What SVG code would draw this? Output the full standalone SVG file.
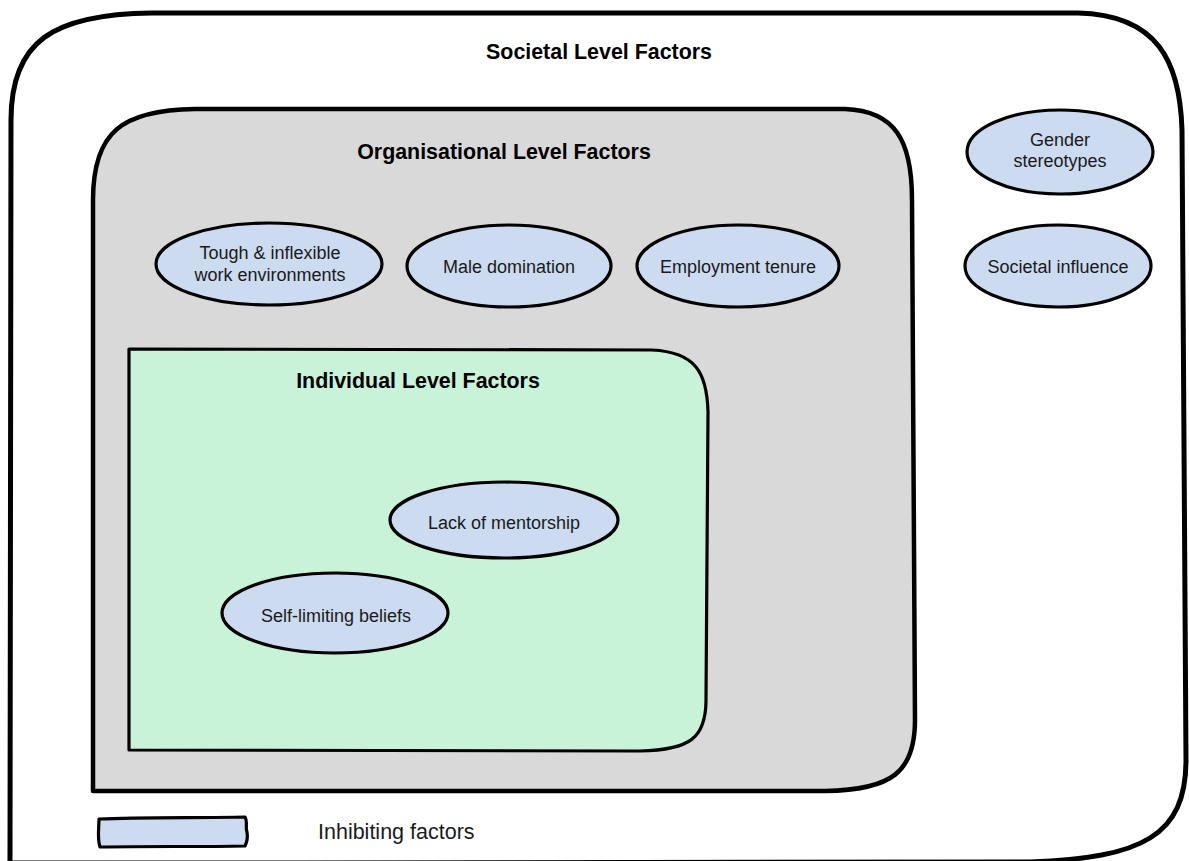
<svg xmlns="http://www.w3.org/2000/svg" width="1189" height="861" viewBox="0 0 1189 861">
  <style>
    .title { font-family: "Liberation Sans", Arial, sans-serif; font-weight: bold; font-size: 21.4px; fill: #000; text-anchor: middle; }
    .lbl { font-family: "Liberation Sans", Arial, sans-serif; font-size: 18px; fill: #1a1a1a; text-anchor: middle; }
    .legend { font-family: "Liberation Sans", Arial, sans-serif; font-size: 21.5px; fill: #1a1a1a; }
    .factor { fill: #ccdbf0; stroke: #000; stroke-width: 3.2; }
    .box { stroke: #000; stroke-linejoin: round; }
  </style>
  <rect width="1189" height="861" fill="#ffffff"/>

  <g id="societal-level">
    <path class="box" fill="#ffffff" stroke-width="5" d="M10,863 L11,120 C11,42 52,14 152,13 L1078,13 C1158,15 1180,62 1182,130 L1186,760 C1186,836 1142,858 1030,862 L300,863 Z"/>
    <text class="title" x="599" y="59">Societal Level Factors</text>
  </g>

  <g id="organisational-level">
    <path class="box" fill="#d9d9d9" stroke-width="4.5" d="M93,791 L93,200 C93,132 122,110 195,109 L845,109 C895,111 912,140 912,200 L915,720 C915,772 892,790 825,791 Z"/>
    <text class="title" x="504" y="159">Organisational Level Factors</text>
  </g>

  <g id="individual-level">
    <path class="box" fill="#c9f3d9" stroke-width="3.2" d="M129,750 L129,349 L652,350 C695,352 707,372 708,412 L706,700 C706,738 690,750 640,751 Z"/>
    <text class="title" x="418" y="388">Individual Level Factors</text>
  </g>

  <g id="tough-inflexible">
    <ellipse class="factor" cx="269" cy="264" rx="113" ry="41"/>
    <text class="lbl" x="270" y="259">Tough &amp; inflexible</text>
    <text class="lbl" x="270" y="281">work environments</text>
  </g>

  <g id="male-domination">
    <ellipse class="factor" cx="509" cy="266" rx="102" ry="41"/>
    <text class="lbl" x="509" y="273">Male domination</text>
  </g>

  <g id="employment-tenure">
    <ellipse class="factor" cx="738" cy="266" rx="101" ry="41"/>
    <text class="lbl" x="738" y="273">Employment tenure</text>
  </g>

  <g id="gender-stereotypes">
    <ellipse class="factor" cx="1060" cy="152" rx="93" ry="42"/>
    <text class="lbl" x="1060" y="146">Gender</text>
    <text class="lbl" x="1060" y="167">stereotypes</text>
  </g>

  <g id="societal-influence">
    <ellipse class="factor" cx="1058" cy="266" rx="93" ry="41"/>
    <text class="lbl" x="1058" y="273">Societal influence</text>
  </g>

  <g id="lack-of-mentorship">
    <ellipse class="factor" cx="504" cy="520" rx="114" ry="38"/>
    <text class="lbl" x="504" y="529">Lack of mentorship</text>
  </g>

  <g id="self-limiting-beliefs">
    <ellipse class="factor" cx="335" cy="613" rx="113" ry="40"/>
    <text class="lbl" x="336" y="622">Self-limiting beliefs</text>
  </g>

  <g id="legend">
    <path fill="#ccdbf0" stroke="#000" stroke-width="3.2" stroke-linejoin="round" d="M99,819 C140,817 200,818 245,817 C248,822 245,828 247,832 C248,838 247,842 245,846 C200,847 150,846 100,847 C97,838 99,828 99,819 Z"/>
    <text class="legend" x="318" y="839">Inhibiting factors</text>
  </g>

  <g id="connectors"></g>
</svg>
